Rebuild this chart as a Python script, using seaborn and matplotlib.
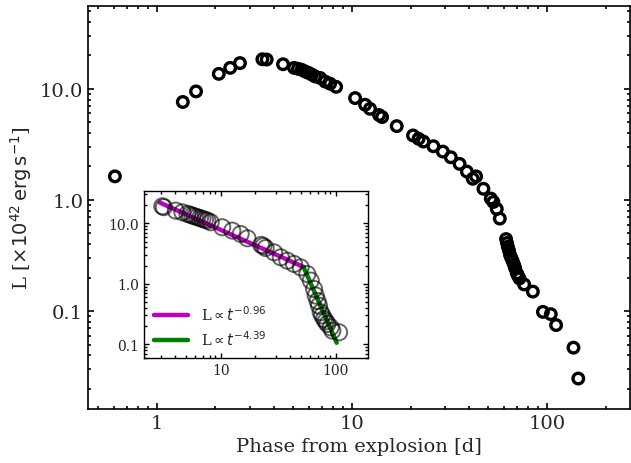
import matplotlib
matplotlib.use("Agg")
import matplotlib.pyplot as plt
import seaborn as sns
import pandas as pd
from matplotlib.ticker import FormatStrFormatter, LogLocator, NullFormatter

# ---- main light curve ----
main_t = [0.61, 1.36, 1.59, 2.08, 2.38, 2.67, 3.48, 3.66, 4.44, 5.06, 5.30, 5.53,
          5.76, 5.99, 6.24, 6.48, 6.88, 7.30, 7.74, 8.31, 10.4, 11.7, 12.4, 13.8,
          14.3, 17.0, 20.6, 22.0, 23.3, 26.2, 29.3, 32.2, 35.7, 38.9, 41.7, 43.4,
          47.3, 51.6, 53.2, 55.4, 57.4, 61.8, 62.5, 63.1, 64.0, 64.8, 65.8, 66.9,
          68.0, 68.8, 70.2, 71.0, 72.4, 76.5, 84.8, 95.5, 104.8, 111.6, 137.0, 145.0]
main_L = [1.63, 7.6, 9.46, 13.6, 15.4, 17.0, 18.4, 18.3, 16.6, 15.4, 15.1, 14.8,
          14.3, 13.9, 13.4, 12.9, 12.5, 11.6, 11.1, 10.4, 8.24, 7.18, 6.6, 5.8,
          5.56, 4.61, 3.80, 3.55, 3.35, 3.04, 2.72, 2.42, 2.11, 1.80, 1.55, 1.63,
          1.26, 1.03, 0.96, 0.83, 0.68, 0.445, 0.41, 0.38, 0.35, 0.32, 0.30, 0.28,
          0.26, 0.243, 0.219, 0.21, 0.197, 0.174, 0.150, 0.0986, 0.094, 0.075, 0.047, 0.0248]

# ---- inset data ----
inset_t = [3.1, 3.2, 4.06, 4.64, 5.13, 5.4, 5.68, 5.95, 6.27, 6.6, 6.93, 7.3, 7.66,
           8.18, 10.3, 12.6, 14.9, 17.1, 22.5, 23.5, 24.6, 29.1, 33.3, 38.0, 43.4,
           49.6, 56.7, 60.7, 64.9, 67.0, 69.5, 71.6, 74.1, 76.5, 79.2, 82.0, 84.7,
           90.5, 93.6, 107.0]
inset_L = [19.1, 18.5, 16.2, 15.2, 14.3, 13.9, 13.4, 13.0, 12.6, 12.2, 11.8, 11.4,
           11.1, 10.4, 8.6, 7.57, 6.66, 5.65, 4.4, 4.2, 3.9, 3.31, 2.74, 2.41, 2.13,
           1.87, 1.45, 1.13, 0.82, 0.64, 0.52, 0.435, 0.338, 0.30, 0.262, 0.24, 0.217,
           0.191, 0.168, 0.158]

# ---- power-law fit segments (endpoints) ----
fit1_t = [2.95, 52.5]
fit1_L = [22.0, 1.9]
fit2_t = [52.5, 102.0]
fit2_L = [1.9, 0.106]
fit1_label = r"L$\propto t^{-0.96}$"
fit2_label = r"L$\propto t^{-4.39}$"

x_ticks = [1, 10, 100]
y_ticks = [0.1, 1.0, 10.0]

sns.set_theme(style="ticks")
plt.rcParams["font.family"] = ["DejaVu Serif"]
plt.rcParams["mathtext.fontset"] = "dejavusans"

fig = plt.figure(figsize=(6.31, 4.64), dpi=100)
W, H = 631, 464
ax = fig.add_axes([88 / W, (H - 410) / H, 542 / W, 403.5 / H])

df_main = pd.DataFrame({"t": main_t, "L": main_L})
sns.scatterplot(data=df_main, x="t", y="L", ax=ax, marker="o", s=58,
                facecolor="none", edgecolor="black", linewidth=2.4, legend=False)
ax.set_xscale("log")
ax.set_yscale("log")
ax.set_xlim(0.444, 267)
ax.set_ylim(0.0132, 56)
ax.set_xticks(x_ticks)
ax.set_yticks(y_ticks)
ax.xaxis.set_major_formatter(FormatStrFormatter("%g"))
ax.yaxis.set_major_formatter(FormatStrFormatter("%.1f"))
ax.xaxis.set_minor_locator(LogLocator(base=10, subs=range(2, 10), numticks=20))
ax.yaxis.set_minor_locator(LogLocator(base=10, subs=range(2, 10), numticks=20))
ax.xaxis.set_minor_formatter(NullFormatter())
ax.yaxis.set_minor_formatter(NullFormatter())
ax.tick_params(which="both", direction="in", top=True, right=True, labelsize=14,
               color="black", width=1.2)
ax.tick_params(which="major", length=4)
ax.tick_params(which="minor", length=2.5)
for sp in ax.spines.values():
    sp.set_color("black")
    sp.set_linewidth(1.2)
ax.set_xlabel("Phase from explosion [d]", fontsize=14)
ax.set_ylabel(r"L [$\times10^{42}\,\mathrm{erg\,s^{-1}}$]", fontsize=14)

# ---- inset ----
ins = fig.add_axes([144 / W, (H - 359) / H, 224 / W, 167 / H])
df_fit1 = pd.DataFrame({"t": fit1_t, "L": fit1_L})
df_fit2 = pd.DataFrame({"t": fit2_t, "L": fit2_L})
sns.lineplot(data=df_fit1, x="t", y="L", ax=ins, color="#bf00bf", linewidth=3.2,
             label=fit1_label)
sns.lineplot(data=df_fit2, x="t", y="L", ax=ins, color="#008000", linewidth=3.2,
             label=fit2_label)
df_ins = pd.DataFrame({"t": inset_t, "L": inset_L})
sns.scatterplot(data=df_ins, x="t", y="L", ax=ins, marker="o", s=135,
                facecolor="none", edgecolor=(0, 0, 0, 0.6), linewidth=1.4,
                legend=False, zorder=3)
ins.set_xscale("log")
ins.set_yscale("log")
ins.set_xlim(2.15, 191)
ins.set_ylim(0.0594, 34.2)
ins.set_xticks([10, 100])
ins.set_yticks(y_ticks)
ins.xaxis.set_major_formatter(FormatStrFormatter("%g"))
ins.yaxis.set_major_formatter(FormatStrFormatter("%.1f"))
ins.xaxis.set_minor_locator(LogLocator(base=10, subs=range(2, 10), numticks=20))
ins.yaxis.set_minor_locator(LogLocator(base=10, subs=range(2, 10), numticks=20))
ins.xaxis.set_minor_formatter(NullFormatter())
ins.yaxis.set_minor_formatter(NullFormatter())
ins.tick_params(which="both", direction="in", top=True, right=True, labelsize=10,
                color="black", width=1.0)
ins.tick_params(which="major", length=3.5)
ins.tick_params(which="minor", length=2)
for sp in ins.spines.values():
    sp.set_color("black")
    sp.set_linewidth(1.0)
ins.set_xlabel("")
ins.set_ylabel("")
ins.legend(loc="lower left", frameon=False, fontsize=10.5, handlelength=2.3,
           handletextpad=0.9, borderaxespad=0.3, labelspacing=0.4)

fig.savefig("out.png", dpi=100)
